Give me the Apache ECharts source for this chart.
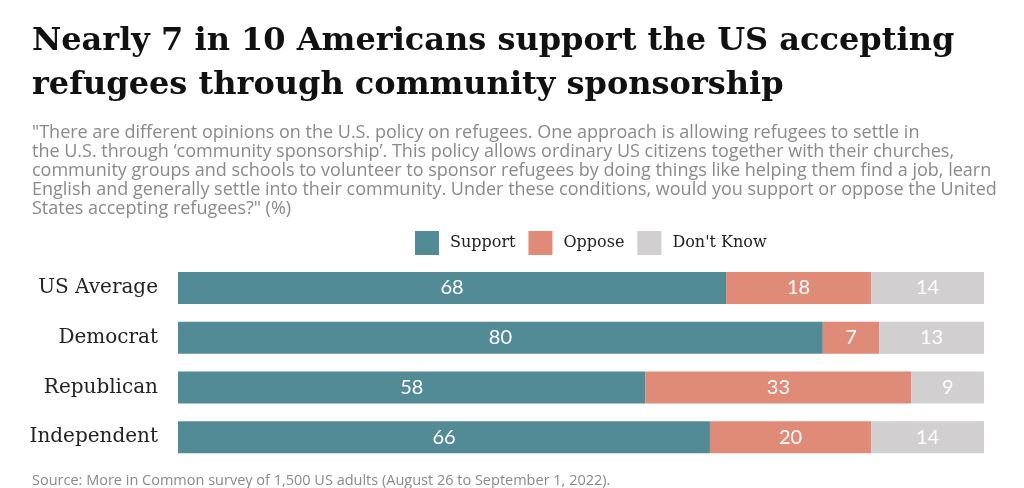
<!DOCTYPE html>
<html><head><meta charset="utf-8">
<script src="https://cdn.jsdelivr.net/npm/echarts@6/dist/echarts.min.js"></script>
<style>html,body{margin:0;padding:0;background:#fff}#c{width:1024px;height:488px}</style>
</head><body><div id="c"></div>
<script>
const categories = ['US Average', 'Democrat', 'Republican', 'Independent'];
const support = [68, 80, 58, 66];
const oppose = [18, 7, 33, 20];
const dontKnow = [14, 13, 9, 14];
const seriesNames = ['Support', 'Oppose', "Don't Know"];
const colors = ['#528B96', '#DF8B78', '#D1CFCF'];

const chart = echarts.init(document.getElementById('c'), null, {renderer: 'canvas'});
const labelStyle = {show: true, position: 'inside', color: '#fff', fontSize: 20, fontFamily: 'Lato, "Open Sans", sans-serif'};
function mk(name, data, color) {
  return {name, type: 'bar', stack: 'all', data, barWidth: 32,
    itemStyle: {color}, label: labelStyle, emphasis: {disabled: true}};
}
chart.setOption({
  animation: false,
  title: [
    {text: 'Nearly 7 in 10 Americans support the US accepting\nrefugees through community sponsorship', left: 27, top: 15,
     textStyle: {fontFamily: '"DejaVu Serif", serif', fontWeight: 'bold', fontSize: 32, color: '#111', lineHeight: 44}},
    {text: '"There are different opinions on the U.S. policy on refugees. One approach is allowing refugees to settle in\nthe U.S. through ‘community sponsorship’. This policy allows ordinary US citizens together with their churches,\ncommunity groups and schools to volunteer to sponsor refugees by doing things like helping them find a job, learn\nEnglish and generally settle into their community. Under these conditions, would you support or oppose the United\nStates accepting refugees?" (%)',
     left: 27, top: 118, textStyle: {fontFamily: '"Open Sans", sans-serif', fontWeight: 'normal', fontSize: 18, color: '#8a8a8a', lineHeight: 19}},
    {text: 'Source: More in Common survey of 1,500 US adults (August 26 to September 1, 2022).', left: 27, top: 468,
     textStyle: {fontFamily: '"Open Sans", sans-serif', fontWeight: 'normal', fontSize: 14.5, color: '#8a8a8a'}}
  ],
  legend: {data: seriesNames, left: 410, top: 226, itemWidth: 24, itemHeight: 24, itemGap: 13, icon: 'rect',
    textStyle: {fontFamily: '"DejaVu Serif", serif', fontSize: 16, color: '#222', padding: [0, 0, 0, 6]}},
  grid: {left: 178, right: 40, top: 263, bottom: 26, containLabel: false},
  xAxis: {type: 'value', min: 0, max: 100, show: false},
  yAxis: {type: 'category', data: categories, inverse: true,
    axisLine: {show: false}, axisTick: {show: false},
    axisLabel: {margin: 20, fontSize: 20, color: '#222', fontFamily: '"DejaVu Serif", serif'}},
  series: [mk(seriesNames[0], support, colors[0]), mk(seriesNames[1], oppose, colors[1]), mk(seriesNames[2], dontKnow, colors[2])]
});
</script></body></html>
